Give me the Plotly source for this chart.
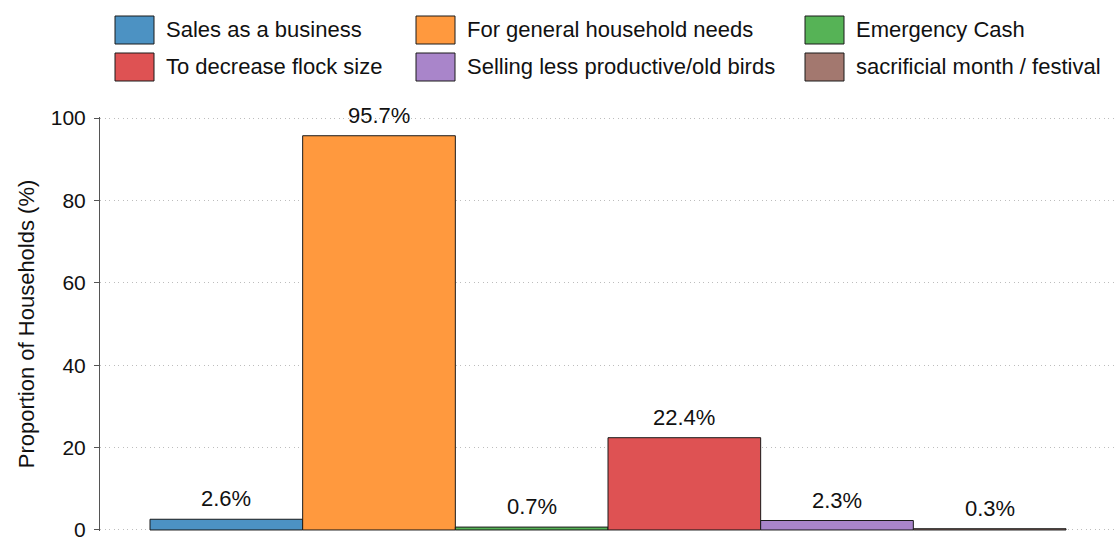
import plotly.graph_objects as go

# Reasons for selling birds and the share of households giving each
reasons = [
    "Sales as a business",
    "For general household needs",
    "Emergency Cash",
    "To decrease flock size",
    "Selling less productive/old birds",
    "sacrificial month / festival",
]
shares = [2.6, 95.7, 0.7, 22.4, 2.3, 0.3]
colors = ["#4C92C3", "#FF993E", "#56B356", "#DE5253", "#A985CA", "#A3786F"]
y_ticks = [0, 20, 40, 60, 80, 100]

W, H = 1116, 538
Y_LO, Y_HI = -0.25, 100.25
PL, PR, PT, PB = 100, 1116, 117, 531
FONT = "Liberation Sans, Arial, sans-serif"
FS_TICK = 21
FS_TEXT = 22


def fx(p):
    return (p - PL) / (PR - PL)


def fy(p):
    return (PB - p) / (PB - PT)


fig = go.Figure()
for i, (name, val, col) in enumerate(zip(reasons, shares, colors)):
    fig.add_trace(go.Bar(
        x=[i], y=[val], width=1, name=name,
        marker=dict(color=col, line=dict(color="#1a1a1a", width=1)),
        showlegend=False, hoverinfo="x+y",
    ))
    fig.add_annotation(
        x=i, y=val, xref="x", yref="y", text=f"{val:.1f}%",
        showarrow=False, yanchor="bottom", yshift=6,
        font=dict(size=FS_TEXT, color="#111", family=FONT),
    )

# legend drawn as three columns of swatches with labels
col_x = [115, 416, 805]
row_c = [30, 67]
sw_w, sw_h = 39, 28
for i, (name, col) in enumerate(zip(reasons, colors)):
    c, r = i % 3, i // 3
    x0 = col_x[c]
    yc = row_c[r]
    fig.add_shape(
        type="rect", xref="paper", yref="paper",
        x0=fx(x0), x1=fx(x0 + sw_w), y0=fy(yc + sw_h / 2), y1=fy(yc - sw_h / 2),
        fillcolor=col, line=dict(color="#1a1a1a", width=1),
    )
    fig.add_annotation(
        xref="paper", yref="paper", x=fx(x0 + sw_w + 10), y=fy(yc),
        text=name, showarrow=False, xanchor="left", yanchor="middle",
        font=dict(size=FS_TEXT, color="#111", family=FONT),
    )

span = len(reasons)
pad = (150 - PL) / ((1066 - 150) / span)
fig.update_layout(
    width=W, height=H,
    margin=dict(l=PL, r=W - PR, t=PT, b=H - PB, autoexpand=False),
    plot_bgcolor="white", paper_bgcolor="white",
    barmode="overlay",
    font=dict(family=FONT, size=FS_TICK, color="#111"),
    xaxis=dict(range=[-0.5 - pad, span - 0.5 + pad], visible=False),
    yaxis=dict(
        range=[Y_LO, Y_HI], tickvals=y_ticks, ticks="outside", ticklen=5,
        tickcolor="#555", showline=True, linecolor="#555", linewidth=1,
        showgrid=True, gridcolor="#bdbdbd", griddash="1px,3.5px", gridwidth=1,
        zeroline=False, tickfont=dict(size=FS_TICK, color="#111"),
        ticklabelstandoff=4, ticklabeloverflow="allow",
        title=dict(text="Proportion of Households (%)", standoff=10,
                   font=dict(size=FS_TEXT, color="#111")),
    ),
)

fig.write_html("out.html")
